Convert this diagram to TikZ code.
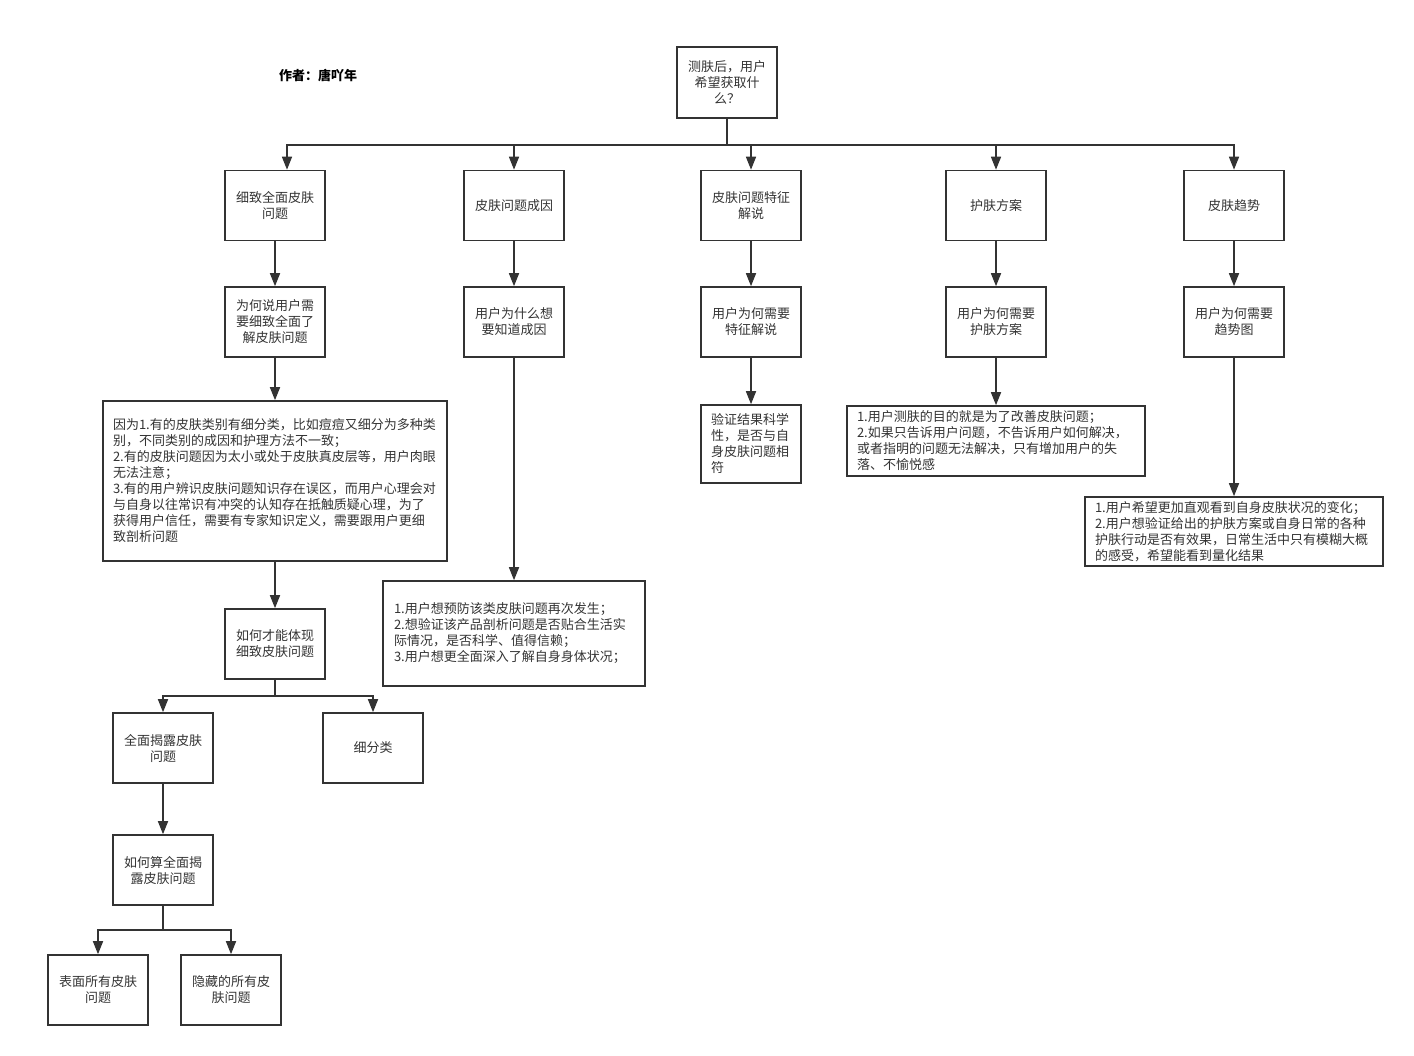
\documentclass[tikz,border=0pt]{standalone}
\usepackage{fontspec}
\newfontfamily\cjk{Noto Sans CJK SC}
\usetikzlibrary{arrows.meta}
\definecolor{ink}{RGB}{51,51,51}
\tikzset{
  box/.style={draw=ink, line width=1.6pt, minimum width=100pt, minimum height=70pt,
    align=center, text=ink, inner sep=2pt, font=\cjk\fontsize{13}{16}\selectfont},
  txt/.style={box, align=left, inner xsep=10pt},
  link/.style={draw=ink, line width=1.6pt, -{Triangle[length=13pt,width=10pt]}}
}

\begin{document}
\begin{tikzpicture}[x=1pt,y=-1pt]
\useasboundingbox (0,0) rectangle (1414,1056);

\node[font=\cjk\bfseries\fontsize{13}{16}\selectfont] (z) at (318,76) {作者：唐吖年};

\node[box,minimum height=71pt] (a) at (727,82.5) {测肤后，用户\\希望获取什\\么？};
\node[box] (b) at (275,205.5) {细致全面皮肤\\问题};
\node[box] (c) at (514,205.5) {皮肤问题成因};
\node[box] (d) at (751,205.5) {皮肤问题特征\\解说};
\node[box] (e) at (996,205.5) {护肤方案};
\node[box] (f) at (1234,205.5) {皮肤趋势};
\node[box] (g) at (275,322) {为何说用户需\\要细致全面了\\解皮肤问题};
\node[box] (h) at (514,322) {用户为什么想\\要知道成因};
\node[box] (i) at (751,322) {用户为何需要\\特征解说};
\node[box] (j) at (996,322) {用户为何需要\\护肤方案};
\node[box] (k) at (1234,322) {用户为何需要\\趋势图};
\node[txt,text width=324pt,minimum height=160pt] (l) at (275,481) {因为1.有的皮肤类别有细分类，比如痘痘又细分为多种类\\别，不同类别的成因和护理方法不一致；\\2.有的皮肤问题因为太小或处于皮肤真皮层等，用户肉眼\\无法注意；\\3.有的用户辨识皮肤问题知识存在误区，而用户心理会对\\与自身以往常识有冲突的认知存在抵触质疑心理，为了\\获得用户信任，需要有专家知识定义，需要跟用户更细\\致剖析问题};
\node[txt,text width=80pt,minimum height=78pt] (m) at (751,444) {验证结果科学\\性，是否与自\\身皮肤问题相\\符};
\node[txt,text width=278pt,minimum height=70pt] (n) at (996,441) {1.用户测肤的目的就是为了改善皮肤问题；\\2.如果只告诉用户问题，不告诉用户如何解决，\\或者指明的问题无法解决，只有增加用户的失\\落、不愉悦感};
\node[txt,text width=278pt,minimum height=69pt] (o) at (1234,531.5) {1.用户希望更加直观看到自身皮肤状况的变化；\\2.用户想验证给出的护肤方案或自身日常的各种\\护肤行动是否有效果，日常生活中只有模糊大概\\的感受，希望能看到量化结果};
\node[txt,text width=240pt,inner xsep=11pt,minimum height=105pt] (p) at (514,633.5) {1.用户想预防该类皮肤问题再次发生；\\2.想验证该产品剖析问题是否贴合生活实\\际情况，是否科学、值得信赖；\\3.用户想更全面深入了解自身身体状况；};
\node[box] (q) at (275,644) {如何才能体现\\细致皮肤问题};
\node[box] (r) at (163,748) {全面揭露皮肤\\问题};
\node[box] (s) at (373,748) {细分类};
\node[box] (t) at (163,870) {如何算全面揭\\露皮肤问题};
\node[box] (u) at (98,990) {表面所有皮肤\\问题};
\node[box] (v) at (231,990) {隐藏的所有皮\\肤问题};

% splitting points
\coordinate (p1) at (727,145);
\coordinate (p2) at (275,696);
\coordinate (p3) at (163,930);

\draw[link] (a) -- (p1) -| ([xshift=12pt]b.north);
\draw[link] (a) -- (p1) -| (c);
\draw[link] (a) -- (p1) -| (d);
\draw[link] (a) -- (p1) -| (e);
\draw[link] (a) -- (p1) -| (f);
\draw[link] (q) -- (p2) -| (r);
\draw[link] (q) -- (p2) -| (s);
\draw[link] (t) -- (p3) -| (u);
\draw[link] (t) -- (p3) -| (v);

\path
(b) edge[link] (g)
(g) edge[link] (l)
(l) edge[link] (q)
(r) edge[link] (t)
(c) edge[link] (h)
(h) edge[link] (p)
(d) edge[link] (i)
(i) edge[link] (m)
(e) edge[link] (j)
(j) edge[link] (n)
(f) edge[link] (k)
(k) edge[link] (o);
\end{tikzpicture}
\end{document}
